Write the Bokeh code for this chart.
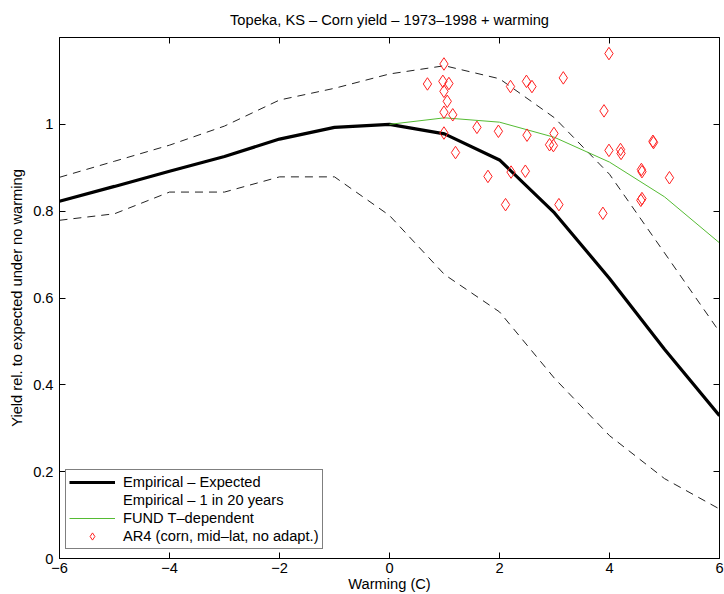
from bokeh.plotting import figure
from bokeh.models import LinearAxis, FixedTicker, Legend, LegendItem, Range1d
from bokeh.embed import file_html
from bokeh.resources import INLINE

# ---- data ----
warming = [-6, -5, -4, -3, -2, -1, 0, 1, 2, 3, 4, 5, 6]
expected = [0.823, 0.857, 0.892, 0.926, 0.966, 0.993, 1.0, 0.978, 0.918, 0.796, 0.645, 0.482, 0.329]
upper_1in20 = [0.878, 0.915, 0.952, 0.996, 1.056, 1.083, 1.116, 1.135, 1.105, 1.015, 0.885, 0.704, 0.522]
lower_1in20 = [0.779, 0.794, 0.844, 0.844, 0.879, 0.879, 0.790, 0.654, 0.568, 0.415, 0.283, 0.184, 0.114]

fund_x = [0, 1, 2, 3, 4, 5, 6]
fund_y = [1.0, 1.015, 1.005, 0.970, 0.913, 0.833, 0.727]

ar4_x = [0.69, 0.99, 0.97, 1.08, 0.99, 1.05, 0.99, 1.15, 0.99, 1.20,
         1.59, 1.98, 1.79, 2.11, 2.20, 2.49, 2.59, 3.16, 2.50, 2.21, 2.47,
         2.99, 2.91, 2.98, 3.08,
         3.90, 3.99, 3.99, 4.20, 4.21, 4.79, 4.80, 4.58, 4.59, 5.09, 4.57, 4.59, 3.88]
ar4_y = [1.093, 1.139, 1.099, 1.094, 1.076, 1.053, 1.028, 1.022, 0.980, 0.935,
         0.993, 0.984, 0.880, 0.815, 1.087, 1.099, 1.087, 1.107, 0.975, 0.890, 0.892,
         0.979, 0.953, 0.951, 0.815,
         1.031, 1.163, 0.940, 0.942, 0.933, 0.961, 0.958, 0.896, 0.891, 0.877, 0.825, 0.829, 0.795]

x_ticks = [-6, -4, -2, 0, 2, 4, 6]
x_tick_labels = ["\u22126", "\u22124", "\u22122", "0", "2", "4", "6"]
y_ticks = [0, 0.2, 0.4, 0.6, 0.8, 1.0]
y_tick_labels = ["0", "0.2", "0.4", "0.6", "0.8", "1"]

title_text = "Topeka, KS \u2013 Corn yield \u2013 1973\u20131998 + warming"
x_label = "Warming (C)"
y_label = "Yield rel. to expected under no warming"
legend_labels = ["Empirical \u2013 Expected", "Empirical \u2013 1 in 20 years",
                 "FUND T\u2013dependent", "AR4 (corn, mid\u2013lat, no adapt.)"]

FONT = "Liberation Sans"
FS = "11pt"

p = figure(width=724, height=594, x_range=Range1d(-6, 6), y_range=Range1d(0, 1.2),
           output_backend="svg", toolbar_location=None, title=title_text,
           min_border_left=59, min_border_right=5, min_border_top=37, min_border_bottom=36)
p.title.align = "center"
p.title.text_font = FONT
p.title.text_font_size = FS
p.title.text_font_style = "normal"
p.title.text_color = "black"
p.title.standoff = 19

p.xgrid.visible = False
p.ygrid.visible = False
p.outline_line_color = "black"
p.outline_line_width = 1
p.background_fill_color = "white"
p.border_fill_color = "white"

def style_axis(ax, ticks, labels):
    ax.ticker = FixedTicker(ticks=ticks)
    ax.major_label_overrides = {t: l for t, l in zip(ticks, labels)}
    ax.major_tick_in = 6
    ax.major_tick_out = 0
    ax.minor_tick_line_color = None
    ax.axis_line_color = "black"
    ax.major_tick_line_color = "black"
    ax.major_label_text_font = FONT
    ax.major_label_text_font_size = FS
    ax.major_label_text_color = "black"
    ax.axis_label_text_font = FONT
    ax.axis_label_text_font_size = FS
    ax.axis_label_text_font_style = "normal"
    ax.axis_label_text_color = "black"

xa = p.xaxis[0]
style_axis(xa, x_ticks, x_tick_labels)
xa.axis_label = x_label
xa.major_label_standoff = 4
xa.axis_label_standoff = 0

ya = p.yaxis[0]
style_axis(ya, y_ticks, y_tick_labels)
ya.axis_label = y_label
ya.major_label_standoff = 6
ya.axis_label_standoff = 5

# tick-only mirror axes (top / right), as in the reference box
top = LinearAxis()
style_axis(top, x_ticks[1:-1], ["" for _ in x_ticks[1:-1]])
top.major_label_standoff = 0
p.add_layout(top, "above")

right = LinearAxis()
style_axis(right, y_ticks[1:], ["" for _ in y_ticks[1:]])
right.major_label_standoff = 0
p.add_layout(right, "right")

r_up = p.line(warming, upper_1in20, line_color="#222222", line_width=1, line_dash="8 6")
r_lo = p.line(warming, lower_1in20, line_color="#222222", line_width=1, line_dash="8 6")
r_exp = p.line(warming, expected, line_color="black", line_width=3.2)
r_fund = p.line(fund_x, fund_y, line_color="#55bb33", line_width=1)
r_ar4 = p.scatter(ar4_x, ar4_y, marker="diamond", size=12.5, line_color="#ff2020",
                  line_width=1, fill_color=None)
r_dummy = p.line(x=[], y=[], line_alpha=0)

legend = Legend(items=[
    LegendItem(label=legend_labels[0], renderers=[r_exp]),
    LegendItem(label=legend_labels[1], renderers=[r_dummy]),
    LegendItem(label=legend_labels[2], renderers=[r_fund]),
    LegendItem(label=legend_labels[3], renderers=[r_ar4]),
], location=(6, 9))
legend.label_text_font = FONT
legend.label_text_font_size = FS
legend.label_text_color = "black"
legend.padding = 3
legend.spacing = 0
legend.glyph_height = 18
legend.label_height = 18
legend.glyph_width = 46
legend.label_standoff = 8
legend.margin = 0
legend.border_line_color = "black"
legend.border_line_width = 1
legend.background_fill_color = "white"
legend.background_fill_alpha = 1
p.add_layout(legend, "center")

open("out.html", "w").write(file_html(p, INLINE))
